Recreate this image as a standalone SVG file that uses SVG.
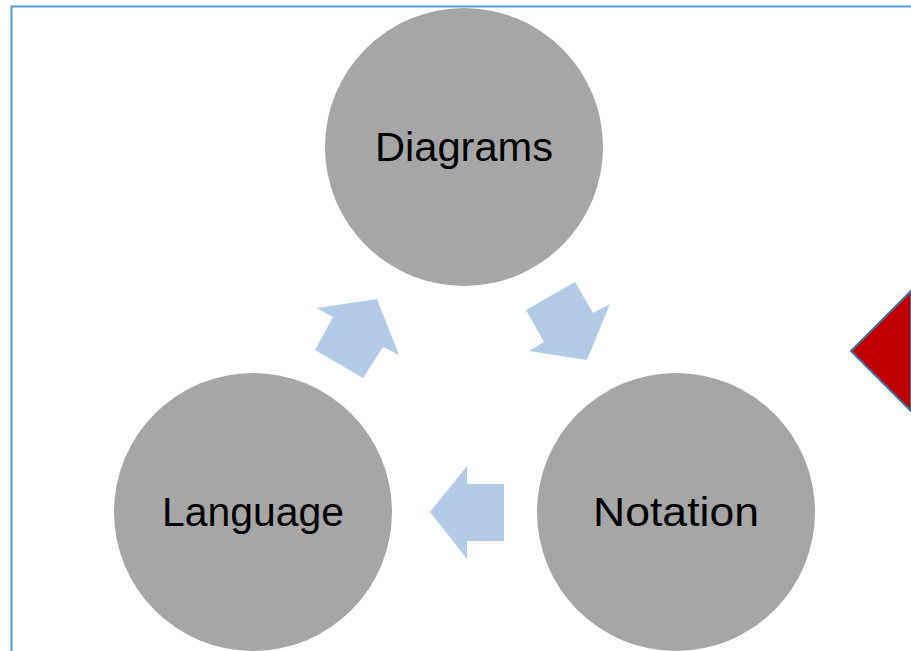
<svg xmlns="http://www.w3.org/2000/svg" width="911" height="651" viewBox="0 0 911 651">
  <style>
    .node circle { fill: #a6a6a6; }
    .node text { font-family: "Liberation Sans", Arial, sans-serif; font-size: 41px; fill: #000; text-anchor: middle; dominant-baseline: central; }
    .flow polygon { fill: #b4cbe8; }
  </style>
  <rect x="0" y="0" width="911" height="651" fill="#fff"/>
  <!-- frame -->
  <path d="M11.5 651 V6.5 H911" fill="none" stroke="#5b9bd5" stroke-width="2"/>

  <g id="node-diagrams" class="node">
    <circle cx="464" cy="147" r="139"/>
    <text x="464" y="147" textLength="178" lengthAdjust="spacingAndGlyphs">Diagrams</text>
  </g>
  <g id="node-notation" class="node">
    <circle cx="676" cy="512" r="139"/>
    <text x="676" y="512" textLength="166" lengthAdjust="spacingAndGlyphs">Notation</text>
  </g>
  <g id="node-language" class="node">
    <circle cx="253" cy="512" r="139"/>
    <text x="253" y="512" textLength="182" lengthAdjust="spacingAndGlyphs">Language</text>
  </g>

  <g id="connectors" class="flow">
    <!-- Diagrams to Notation -->
    <polygon points="575,282 593,313 610,304 587,360 529,351 544,342 526,310"/>
    <!-- Notation to Language -->
    <polygon points="504,484 467,484 467,466 430,512 467,559 467,541 504,541"/>
    <!-- Language to Diagrams -->
    <polygon points="315,350 333,317 317,308 377,299 399,355 383,347 363,378"/>
  </g>

  <g id="node-diamond">
    <polygon points="851,351 911,291 911,411" fill="#c00000" stroke="#41719c" stroke-width="2"/>
  </g>
</svg>
